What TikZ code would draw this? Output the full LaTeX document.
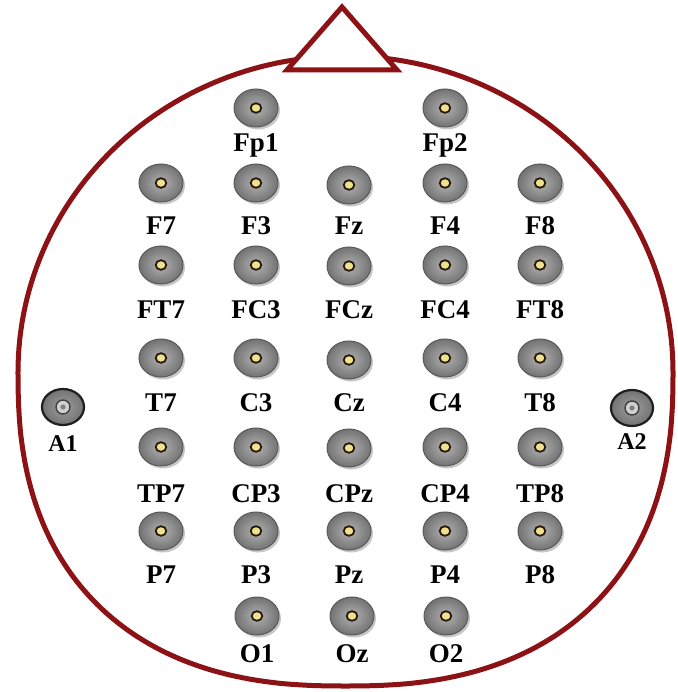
\documentclass[tikz,border=0pt]{standalone}
\usepackage{fontspec}
\setmainfont{Liberation Serif}
\usetikzlibrary{shapes.geometric,shadows}
\definecolor{headred}{RGB}{140,18,22}
\definecolor{dotyellow}{RGB}{240,226,140}
\tikzset{
  lbl/.style={font=\fontsize{27}{27}\selectfont\bfseries, anchor=base, inner sep=0pt},
  albl/.style={font=\fontsize{24}{24}\selectfont\bfseries, anchor=base, inner sep=0pt},
  elec/.style={ellipse, minimum width=44pt, minimum height=38pt, inner sep=0pt,
    inner color=black!30, outer color=black!55, draw=black!65, line width=1pt,
    drop shadow={shadow xshift=2pt, shadow yshift=-2.5pt, opacity=0.22, fill=black},
    path picture={\fill[dotyellow, draw=black!80!brown, line width=1.8pt]
      (path picture bounding box.center) ellipse (5.3pt and 4.8pt);}},
  earref/.style={ellipse, minimum width=42pt, minimum height=36pt, inner sep=0pt,
    inner color=black!38, outer color=black!55, draw=black!88, line width=2.2pt,
    path picture={\fill[black!18, draw=black!75, line width=1.4pt]
      (path picture bounding box.center) circle (7pt);
      \fill[black!50] (path picture bounding box.center) circle (2.6pt);}},
  headline/.style={draw=headred, line width=5pt, line join=round},
}
\begin{document}
\begin{tikzpicture}[x=1pt, y=-1pt]
\fill[white] (0,0) rectangle (677,692);
\useasboundingbox (0,0) rectangle (677,692);
% head outline: elliptic upper half, squarer lower half
\draw[headline]
  plot[domain=0:180, samples=121] ({345.5+327.5*cos(\x)}, {372-316*sin(\x)})
  -- plot[domain=0.01:89.99, samples=70] ({345.5-327.5*cos(\x)^0.8333}, {372+314*sin(\x)^0.8333})
  -- plot[domain=0.01:89.99, samples=70] ({345.5+327.5*sin(\x)^0.8333}, {372+314*cos(\x)^0.8333})
  -- cycle;
% nose
\coordinate (nl) at (287,70);
\coordinate (nt) at (342,7);
\coordinate (nr) at (397,70);
\fill[white] (nl) -- (nt) -- (nr) -- cycle;
\draw[headline, line join=miter] (nl) -- (nt) -- (nr) -- cycle;
% electrodes
\foreach \n/\x/\y/\ly in {
  Fp1/256/108/152, Fp2/445/108/152,
  F7/161/183/235, F3/256/183/235, Fz/349/185/235, F4/445/183/235, F8/540/183/235,
  FT7/161/265/318, FC3/256/265/318, FCz/349/266/318, FC4/445/265/318, FT8/540/265/318,
  T7/161/358/411, C3/256/358/411, Cz/349/360/411, C4/445/358/411, T8/540/358/411,
  TP7/161/447/502, CP3/256/447/502, CPz/349/448/502, CP4/445/447/502, TP8/540/447/502,
  P7/161/531/583, P3/256/531/583, Pz/349/531/583, P4/445/531/583, P8/540/531/583,
  O1/257/616/662, Oz/352/616/662, O2/446/616/662}{
  \node[elec] (\n) at (\x,\y) {};
  \node[lbl] (\n-l) at (\x,\ly) {\n};
}
% ear references
\node[earref] (A1) at (63,407) {};
\node[albl] (A1-l) at (63,451) {A1};
\node[earref] (A2) at (632,408) {};
\node[albl] (A2-l) at (632,449) {A2};
\end{tikzpicture}
\end{document}
